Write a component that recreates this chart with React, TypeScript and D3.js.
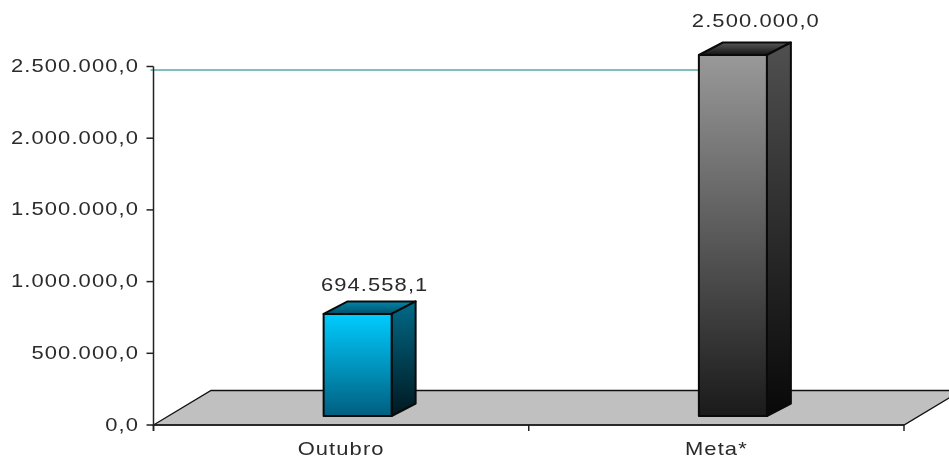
import React from "react";
import * as d3 from "d3";

const categories = ["Outubro", "Meta*"];
const values = [694558.1, 2500000];
const valueLabels = ["694.558,1", "2.500.000,0"];
const yTicks = [0, 500000, 1000000, 1500000, 2000000, 2500000];
const yTickLabels = ["0,0", "500.000,0", "1.000.000,0", "1.500.000,0", "2.000.000,0", "2.500.000,0"];
const targetLine = [2500000];

const W = 949, H = 458;
const X0 = 153.5, X1 = 904, Y0 = 425, Y1 = 66.5;
const FLOOR_DX = 57.5, FLOOR_DY = 34.5;
const BAR_W = 68, BAR_DX = 24, BAR_DY = 12.5, BAR_BASE = 416, BAR_LIFT = 11.5, BAR_SHIFT = 16.5;
const SX = 1.22;
const labelLift = [34.4, 39.5];
const labelShift = [5, 11];
const FONT = "'Liberation Sans', Arial, sans-serif";

const y = d3.scaleLinear().domain([0, 2500000]).range([Y0, Y1]);
const x = d3.scaleBand<string>().domain(categories).range([X0, X1]);
const poly = (p: [number, number][]) => d3.line()(p) + "Z";

const palette = [
  { id: "a", front: ["#00ccff", "#005f80"], side: ["#006a88", "#001820"], top: ["#0088ad", "#004f68"] },
  { id: "b", front: ["#999999", "#1a1a1a"], side: ["#505050", "#080808"], top: ["#585858", "#141414"] },
];

function Txt({ x: tx, y: ty, anchor, children }: { x: number; y: number; anchor: string; children: string }) {
  return (
    <text transform={`translate(${tx},${ty}) scale(${SX},1)`} textAnchor={anchor} fontFamily={FONT} fontSize={18} letterSpacing={0.9} fill="#2a2a2a" filter="url(#soft)">
      {children}
    </text>
  );
}

export default function App() {
  const barX = (c: string) => x(c)! + x.bandwidth() / 2 + BAR_SHIFT - BAR_W / 2;
  return (
    <svg width={W} height={H} viewBox={`0 0 ${W} ${H}`} style={{ position: "absolute", left: 0, top: 0, background: "#fff" }}>
      <defs>
        <filter id="soft" x="-5%" y="-20%" width="110%" height="140%">
          <feGaussianBlur stdDeviation="0.35" />
        </filter>
        {palette.map((p) =>
          (["front", "side", "top"] as const).map((k) => (
            <linearGradient key={p.id + k} id={p.id + k} x1="0" y1="0" x2="0" y2="1">
              <stop offset="0" stopColor={p[k][0]} />
              <stop offset="1" stopColor={p[k][1]} />
            </linearGradient>
          ))
        )}
      </defs>

      <path
        d={poly([[X0, Y0], [X0 + FLOOR_DX, Y0 - FLOOR_DY], [X1 + FLOOR_DX, Y0 - FLOOR_DY], [X1, Y0]])}
        fill="#c0c0c0"
        stroke="#111"
        strokeWidth={1.3}
      />

      {targetLine.map((v) => (
        <line key={v} x1={X0 - 3} x2={barX(categories[1])} y1={y(v) + 3.5} y2={y(v) + 3.5} stroke="#5aa8a8" strokeWidth={1.4} />
      ))}

      {categories.map((c, i) => {
        const l = barX(c), r = l + BAR_W, t = y(values[i]) - BAR_LIFT, b = BAR_BASE;
        const p = palette[i];
        return (
          <g key={c} stroke="#0a0a0a" strokeWidth={2} strokeLinejoin="round">
            <path d={poly([[l, t], [l + BAR_DX, t - BAR_DY], [r + BAR_DX, t - BAR_DY], [r, t]])} fill={`url(#${p.id}top)`} />
            <path d={poly([[r, t], [r + BAR_DX, t - BAR_DY], [r + BAR_DX, b - BAR_DY], [r, b]])} fill={`url(#${p.id}side)`} />
            <rect x={l} y={t} width={BAR_W} height={b - t} fill={`url(#${p.id}front)`} />
          </g>
        );
      })}

      <g stroke="#222" strokeWidth={1.5}>
        <line x1={X0} x2={X0} y1={Y1} y2={Y0 + 6} />
        <line x1={X0} x2={X1} y1={Y0} y2={Y0} />
        {yTicks.map((t) => (
          <line key={t} x1={X0 - 7} x2={X0} y1={y(t)} y2={y(t)} />
        ))}
        {[...categories.map((c) => x(c)!), X1].map((v) => (
          <line key={v} x1={v} x2={v} y1={Y0} y2={Y0 + 6} />
        ))}
      </g>

      {yTicks.map((t, i) => (
        <Txt key={t} x={139} y={y(t) + 5.5} anchor="end">{yTickLabels[i]}</Txt>
      ))}
      {categories.map((c) => (
        <Txt key={c} x={x(c)! + x.bandwidth() / 2} y={455} anchor="middle">{c}</Txt>
      ))}
      {categories.map((c, i) => (
        <Txt key={c + "v"} x={barX(c) + (BAR_W + BAR_DX) / 2 + labelShift[i]} y={y(values[i]) - labelLift[i]} anchor="middle">
          {valueLabels[i]}
        </Txt>
      ))}
    </svg>
  );
}
